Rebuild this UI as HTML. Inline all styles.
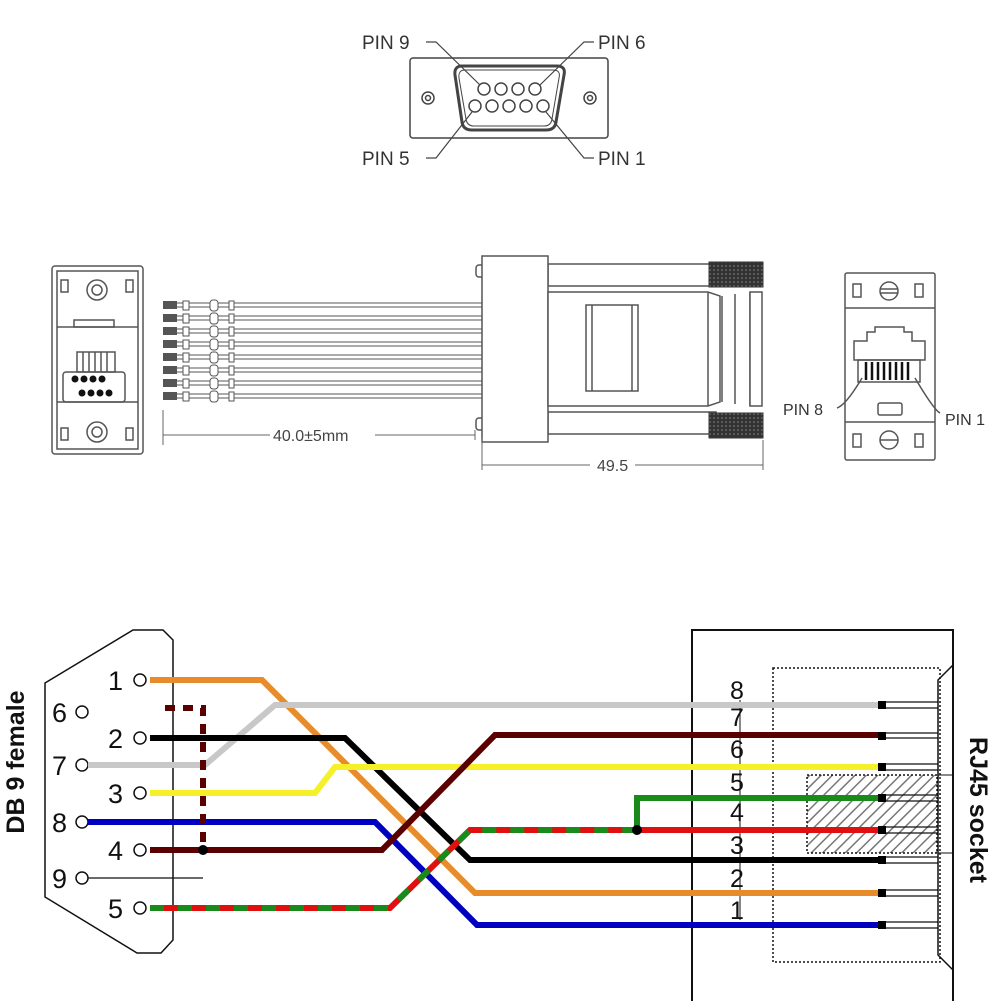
<!DOCTYPE html>
<html><head><meta charset="utf-8"><style>
html,body{margin:0;padding:0;background:#fff;}
svg{display:block;}
text{font-family:"Liberation Sans",sans-serif;}
</style></head><body>
<svg width="1001" height="1001" viewBox="0 0 1001 1001" xmlns="http://www.w3.org/2000/svg">
<defs>
<pattern id="hatch" width="8" height="8" patternUnits="userSpaceOnUse" patternTransform="rotate(45)">
<rect width="8" height="8" fill="#fff"/><line x1="0" y1="0" x2="0" y2="8" stroke="#777" stroke-width="3"/>
</pattern>
<pattern id="knurl" width="4" height="4" patternUnits="userSpaceOnUse">
<rect width="4" height="4" fill="#333"/><circle cx="2" cy="2" r="0.8" fill="#888"/>
</pattern>
</defs>

<!-- TOP DB9 face -->
<g fill="none" stroke="#444" stroke-width="1.5">
<rect x="410" y="58" width="198" height="80" rx="3"/>
<path d="M462,66 L557,66 Q566,66 564,75 L556,122 Q555,130 546,130 L472,130 Q463,130 462,122 L455,75 Q454,66 462,66Z" stroke-width="3"/>
<path d="M465,70 L553,70 Q561,70 559,78 L552,119 Q551,126 544,126 L474,126 Q467,126 466,119 L459,78 Q458,70 465,70Z" stroke-width="1"/>
<circle cx="428" cy="98" r="6"/><circle cx="428" cy="98" r="2.5"/>
<circle cx="590" cy="98" r="6"/><circle cx="590" cy="98" r="2.5"/>
<circle cx="484" cy="89" r="6"/><circle cx="501" cy="89" r="6"/><circle cx="518" cy="89" r="6"/><circle cx="535" cy="89" r="6"/>
<circle cx="475" cy="106" r="6"/><circle cx="492" cy="106" r="6"/><circle cx="509" cy="106" r="6"/><circle cx="526" cy="106" r="6"/><circle cx="543" cy="106" r="6"/>
<path d="M426,42 L436,42 L480,85" stroke-width="1.2"/>
<path d="M594,42 L584,42 L540,85" stroke-width="1.2"/>
<path d="M426,158 L436,158 L472,112" stroke-width="1.2"/>
<path d="M594,158 L584,158 L546,112" stroke-width="1.2"/>
</g>
<g font-size="19" fill="#333">
<text x="362" y="49">PIN 9</text><text x="598" y="49">PIN 6</text>
<text x="362" y="165">PIN 5</text><text x="598" y="165">PIN 1</text>
</g>

<!-- MIDDLE: left end view -->
<g fill="none" stroke="#555" stroke-width="1.5">
<rect x="52" y="266" width="91" height="188" rx="3"/>
<rect x="57" y="271" width="81" height="178"/>
<line x1="57" y1="327" x2="138" y2="327"/>
<line x1="57" y1="402" x2="138" y2="402"/>
<rect x="74" y="320" width="40" height="7"/>
<circle cx="97" cy="290" r="10"/><circle cx="97" cy="290" r="5"/>
<circle cx="97" cy="432" r="10"/><circle cx="97" cy="432" r="5"/>
<rect x="61" y="280" width="7" height="12"/><rect x="126" y="280" width="7" height="12"/>
<rect x="61" y="428" width="7" height="12"/><rect x="126" y="428" width="7" height="12"/>
<rect x="61" y="425" width="0" height="0"/>
<rect x="77" y="352" width="38" height="20"/>
<path d="M83,352v20M89,352v20M95,352v20M101,352v20M107,352v20"/>
<rect x="63" y="372" width="62" height="30" rx="3"/>
</g>
<g fill="#111">
<circle cx="75" cy="379" r="3.5"/><circle cx="84" cy="379" r="3.5"/><circle cx="93" cy="379" r="3.5"/><circle cx="102" cy="379" r="3.5"/>
<circle cx="82" cy="393" r="3.5"/><circle cx="91" cy="393" r="3.5"/><circle cx="100" cy="393" r="3.5"/><circle cx="109" cy="393" r="3.5"/>
</g>

<!-- wires -->
<g stroke="#777" stroke-width="1.2" fill="none">
<path d="M163,303H482M163,307H482"/>
<path d="M163,316H482M163,320H482"/>
<path d="M163,329H482M163,333H482"/>
<path d="M163,342H482M163,346H482"/>
<path d="M163,355H482M163,359H482"/>
<path d="M163,368H482M163,372H482"/>
<path d="M163,381H482M163,385H482"/>
<path d="M163,394H482M163,398H482"/>
</g>
<g fill="#fff" stroke="#555" stroke-width="1">
<rect x="210" y="300" width="8" height="11" rx="3"/><rect x="210" y="313" width="8" height="11" rx="3"/><rect x="210" y="326" width="8" height="11" rx="3"/><rect x="210" y="339" width="8" height="11" rx="3"/><rect x="210" y="352" width="8" height="11" rx="3"/><rect x="210" y="365" width="8" height="11" rx="3"/><rect x="210" y="378" width="8" height="11" rx="3"/><rect x="210" y="391" width="8" height="11" rx="3"/>
<rect x="229" y="301" width="5" height="9"/><rect x="229" y="314" width="5" height="9"/><rect x="229" y="327" width="5" height="9"/><rect x="229" y="340" width="5" height="9"/><rect x="229" y="353" width="5" height="9"/><rect x="229" y="366" width="5" height="9"/><rect x="229" y="379" width="5" height="9"/><rect x="229" y="392" width="5" height="9"/>
<rect x="183" y="301" width="6" height="9"/><rect x="183" y="314" width="6" height="9"/><rect x="183" y="327" width="6" height="9"/><rect x="183" y="340" width="6" height="9"/><rect x="183" y="353" width="6" height="9"/><rect x="183" y="366" width="6" height="9"/><rect x="183" y="379" width="6" height="9"/><rect x="183" y="392" width="6" height="9"/>
</g>
<g fill="#555"><rect x="163" y="301" width="14" height="8"/><rect x="163" y="314" width="14" height="8"/><rect x="163" y="327" width="14" height="8"/><rect x="163" y="340" width="14" height="8"/><rect x="163" y="353" width="14" height="8"/><rect x="163" y="366" width="14" height="8"/><rect x="163" y="379" width="14" height="8"/><rect x="163" y="392" width="14" height="8"/></g>

<!-- connector side view -->
<g fill="#fff" stroke="#555" stroke-width="1.5">
<rect x="548" y="264" width="168" height="22"/>
<rect x="548" y="412" width="168" height="22"/>
<rect x="476" y="265" width="10" height="12" rx="3"/>
<rect x="476" y="418" width="10" height="12" rx="3"/>
<path d="M486,270H515M486,280H515M486,420H515M486,430H515"/>
<rect x="482" y="256" width="66" height="186"/>
<path d="M548,292H708L720,296V402L708,406H548Z"/>
<path d="M708,292V406M722,296V402M735,294V404M750,292V406"/>
<rect x="750" y="292" width="12" height="114"/>
<rect x="586" y="305" width="52" height="86"/>
<path d="M592,305V391M632,305V391"/>
</g>
<rect x="709" y="262" width="54" height="25" fill="url(#knurl)" stroke="#333"/>
<rect x="709" y="413" width="54" height="25" fill="url(#knurl)" stroke="#333"/>

<!-- dimensions -->
<g stroke="#666" stroke-width="1" fill="none">
<path d="M163,410V445M163,435H270M375,435H475M475,430V440"/>
<path d="M482,438V470M763,440V470M482,465H590M635,465H763"/>
</g>
<g font-size="16" fill="#444">
<text x="273" y="441">40.0±5mm</text>
<text x="597" y="471">49.5</text>
</g>

<!-- right RJ45 face -->
<g fill="none" stroke="#555" stroke-width="1.5">
<rect x="845" y="273" width="90" height="187" rx="2"/>
<line x1="845" y1="308" x2="935" y2="308"/>
<line x1="845" y1="422" x2="935" y2="422"/>
<rect x="853" y="284" width="8" height="13"/><rect x="915" y="284" width="8" height="13"/>
<rect x="853" y="434" width="8" height="13"/><rect x="915" y="434" width="8" height="13"/>
<circle cx="889" cy="291" r="9"/><line x1="880" y1="289" x2="898" y2="289"/><line x1="880" y1="293" x2="898" y2="293"/>
<circle cx="889" cy="440" r="9"/><line x1="880" y1="440" x2="898" y2="440"/>
<path d="M854,360V341H867V332H875V327H904V332H912V341H925V360Z"/>
<rect x="858" y="360" width="62" height="22"/>
<path d="M866,362v18M872,362v18M878,362v18M884,362v18M890,362v18M896,362v18M902,362v18M908,362v18" stroke="#111" stroke-width="2.5"/>
<rect x="878" y="403" width="24" height="12" rx="2"/>
<path d="M837,408 Q846,405 862,378"/>
<path d="M940,413 Q934,410 915,378"/>
</g>
<g font-size="16" fill="#333"><text x="783" y="415">PIN 8</text><text x="945" y="425">PIN 1</text></g>

<!-- BOTTOM: wiring diagram -->
<path d="M45,683 L133,630 L163,630 L173,640 L173,940 L161,953 L137,953 L45,897Z" fill="none" stroke="#111" stroke-width="1.5"/>
<text x="0" y="0" font-size="25" font-weight="bold" fill="#111" transform="translate(24,762) rotate(-90)" text-anchor="middle">DB 9 female</text>

<g font-size="27" fill="#111" font-family="Liberation Sans">
<text x="108" y="690">1</text><text x="52" y="722">6</text>
<text x="108" y="748">2</text><text x="52" y="775">7</text>
<text x="108" y="803">3</text><text x="52" y="832">8</text>
<text x="108" y="860">4</text><text x="52" y="888">9</text>
<text x="108" y="918">5</text>
</g>
<g fill="#fff" stroke="#111" stroke-width="1.5">
<circle cx="140" cy="680" r="6"/><circle cx="82" cy="712" r="6"/>
<circle cx="140" cy="738" r="6"/><circle cx="82" cy="765" r="6"/>
<circle cx="140" cy="793" r="6"/><circle cx="82" cy="822" r="6"/>
<circle cx="140" cy="850" r="6"/><circle cx="82" cy="878" r="6"/>
<circle cx="140" cy="908" r="6"/>
</g>
<line x1="88" y1="878" x2="203" y2="878" stroke="#111" stroke-width="1.2"/>

<!-- RJ45 box -->
<g fill="none" stroke="#111">
<path d="M692,1001V630H953V1001" stroke-width="2"/>
<rect x="773" y="668" width="167" height="294" stroke-dasharray="2,2" stroke-width="1.5"/>
<rect x="807" y="775" width="130" height="78" fill="url(#hatch)" stroke-dasharray="2,2" stroke-width="1.5"/>
<path d="M953,665L938,680V955L953,970" stroke-width="1.5"/>
<path d="M938,775H952M938,853H952" stroke-width="1"/>
<line x1="740" y1="700" x2="740" y2="920" stroke-width="1"/>
</g>
<g stroke="#111" stroke-width="1.2">
<path d="M885,702H938M885,708H938M885,733H938M885,738H938M885,764H938M885,770H938M885,795H938M885,801H938M885,827H938M885,833H938M885,857H938M885,863H938M885,890H938M885,896H938M885,922H938M885,928H938"/>
</g>

<g fill="none" stroke-width="6" stroke-linejoin="miter">
<path d="M150,680H262L475,893H882" stroke="#e88b2a"/>
<path d="M88,765H205L275,705H882" stroke="#c8c8c8"/>
<path d="M150,738H345L470,860H882" stroke="#000"/>
<path d="M150,793H315L335,767H882" stroke="#f5f02a"/>
<path d="M88,822H375L477,925H882" stroke="#0000c0"/>
<path d="M150,850H382L495,735H882" stroke="#5a0000"/>
<path d="M165,708H203V850" stroke="#5a0000" stroke-dasharray="10,8"/>
<path d="M150,908H390L470,830H637" stroke="#e01010"/>
<path d="M150,908H390L470,830H637" stroke="#1a8a1a" stroke-dasharray="14,14"/>
<path d="M637,830H882" stroke="#e01010"/>
<path d="M637,830V798H882" stroke="#1a8a1a"/>
</g>
<circle cx="203" cy="850" r="5" fill="#000"/>
<circle cx="637" cy="830" r="5" fill="#000"/>
<g fill="#000">
<rect x="878" y="701" width="8" height="8"/><rect x="878" y="732" width="8" height="8"/><rect x="878" y="763" width="8" height="8"/><rect x="878" y="794" width="8" height="8"/><rect x="878" y="826" width="8" height="8"/><rect x="878" y="856" width="8" height="8"/><rect x="878" y="889" width="8" height="8"/><rect x="878" y="921" width="8" height="8"/>
</g>
<g font-size="25" fill="#111">
<text x="730" y="699">8</text><text x="730" y="726">7</text><text x="730" y="758">6</text><text x="730" y="791">5</text>
<text x="730" y="821">4</text><text x="730" y="854">3</text><text x="730" y="887">2</text><text x="730" y="919">1</text>
</g>
<text x="0" y="0" font-size="25" font-weight="bold" fill="#111" transform="translate(970,810) rotate(90)" text-anchor="middle">RJ45 socket</text>
</svg>
</body></html>
